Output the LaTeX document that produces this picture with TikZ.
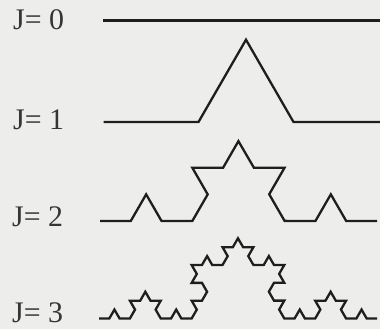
\documentclass[tikz,border=0pt]{standalone}
\usepackage{fontspec}
\setmainfont{Liberation Serif}
\usetikzlibrary{decorations.fractals}
\definecolor{paper}{HTML}{EDEDEB}
\definecolor{ink}{HTML}{1E1E1E}
\tikzset{
  lab/.style={anchor=base west, inner sep=0pt, text depth=0pt, text=ink!90, font=\fontsize{30}{30}\selectfont},
  curve/.style={draw=ink, line width=2.3bp, line join=miter, line cap=butt},
  koch/.style={curve, decoration=Koch snowflake}
}
\begin{document}
\begin{tikzpicture}[x=1bp,y=-1bp]
\fill[paper] (0,0) rectangle (380,329);
\useasboundingbox (0,0) rectangle (380,329);
\clip (0,0) rectangle (380,329);
% labels
\node[lab] (l0) at (13,29) {J= 0};
\node[lab] (l1) at (13,129) {J= 1};
\node[lab] (l2) at (12,226) {J= 2};
\node[lab] (l3) at (12,322) {J= 3};
% end points
\coordinate (s0) at (103,20.5);
\coordinate (e0) at (382,20.5);
\coordinate (s1) at (103.5,122);
\coordinate (e1) at (388.5,122);
\coordinate (s2) at (100,221);
\coordinate (e2) at (377,221);
\coordinate (s3) at (99,318.5);
\coordinate (e3) at (377,318.5);
% curves
\draw[curve] (s0) -- (e0);
\draw[koch] decorate{ (s1) -- (e1) };
\draw[koch] decorate{ decorate{ (s2) -- (e2) } };
\draw[koch] decorate{ decorate{ decorate{ (s3) -- (e3) } } };
\end{tikzpicture}
\end{document}
